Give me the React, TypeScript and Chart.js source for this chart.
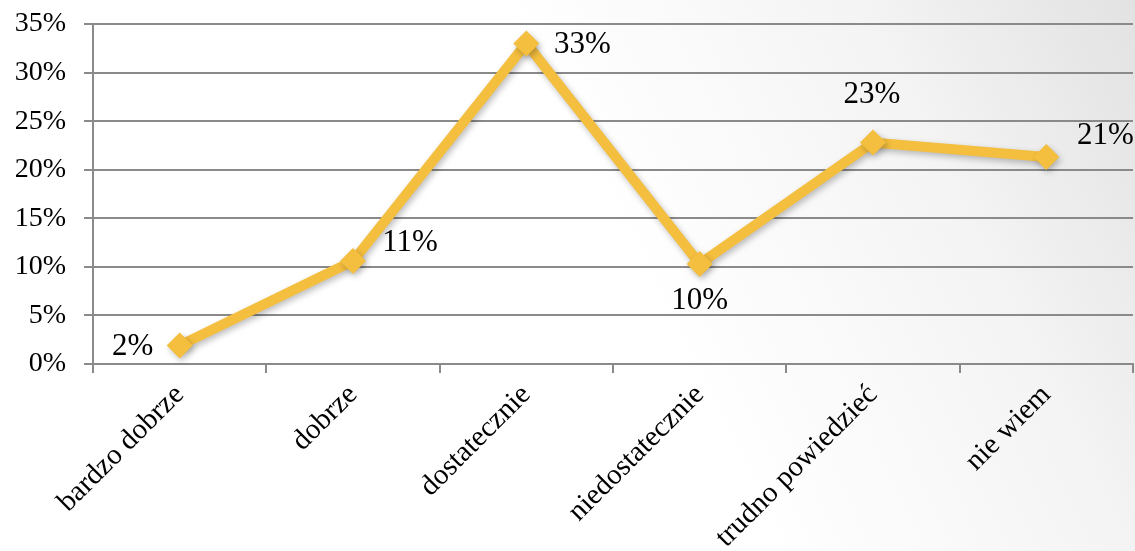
import React, { useEffect, useRef } from "react";
import { Chart, registerables } from "chart.js";

Chart.register(...registerables);

const categories = ["bardzo dobrze", "dobrze", "dostatecznie", "niedostatecznie", "trudno powiedzieć", "nie wiem"];
const values = [1.9, 10.6, 33.0, 10.3, 22.8, 21.3];
const yTicks = [0, 5, 10, 15, 20, 25, 30, 35];
// label placement offsets (px) relative to each point
const labelDx = [-47, 57, 56, 0, -1, 59];
const labelDy = [1, -18, 1, 37, -48, -21];

const FONT = "'Liberation Serif', 'Times New Roman', serif";
const LINE = "#F4BE3E";

const bgPlugin = {
  id: "bgGrad",
  beforeDraw(chart: any) {
    const { ctx, width, height } = chart;
    ctx.save();
    const g = ctx.createLinearGradient(0, height, width, 0);
    g.addColorStop(0, "#ffffff");
    g.addColorStop(0.55, "#ffffff");
    g.addColorStop(0.8, "#f4f4f4");
    g.addColorStop(1, "#e2e2e2");
    ctx.fillStyle = g;
    ctx.fillRect(0, 0, width, height);
    ctx.restore();
  },
};

const shadowPlugin = {
  id: "shadow",
  beforeDatasetDraw(chart: any) {
    const ctx = chart.ctx;
    ctx.save();
    ctx.shadowColor = "rgba(0,0,0,0.25)";
    ctx.shadowBlur = 6;
    ctx.shadowOffsetX = 2;
    ctx.shadowOffsetY = 3;
  },
  afterDatasetDraw(chart: any) {
    chart.ctx.restore();
  },
};

const labelPlugin = {
  id: "valueLabels",
  afterDatasetsDraw(chart: any) {
    const { ctx } = chart;
    const meta = chart.getDatasetMeta(0);
    ctx.save();
    ctx.font = `31px ${FONT}`;
    ctx.fillStyle = "#000";
    ctx.textAlign = "center";
    ctx.textBaseline = "middle";
    meta.data.forEach((pt: any, i: number) => {
      const txt = Math.round(values[i]) + "%";
      ctx.fillText(txt, pt.x + labelDx[i], pt.y + labelDy[i]);
    });
    ctx.restore();
  },
};

export default function App() {
  const ref = useRef<HTMLCanvasElement>(null);
  useEffect(() => {
    document.body.style.margin = "0";
    const chart = new Chart(ref.current!, {
      type: "line",
      data: {
        labels: categories,
        datasets: [
          {
            data: values,
            borderColor: LINE,
            backgroundColor: LINE,
            borderWidth: 10,
            pointStyle: "rectRot",
            pointRadius: 13,
            pointBackgroundColor: LINE,
            pointBorderWidth: 0,
            tension: 0,
            clip: false,
          },
        ],
      },
      options: {
        animation: false,
        responsive: false,
        devicePixelRatio: 1,
        layout: { autoPadding: false, padding: { top: 24, right: 2, left: 0, bottom: 0 } },
        plugins: { legend: { display: false }, tooltip: { enabled: false } },
        scales: {
          x: {
            type: "category",
            offset: true,
            grid: {
              offset: true,
              drawOnChartArea: false,
              drawTicks: true,
              tickLength: 9,
              color: "#8a8a8a",
              lineWidth: 2,
            },
            border: { display: true, color: "#8a8a8a", width: 2 },
            ticks: {
              autoSkip: false,
              maxRotation: 45,
              minRotation: 45,
              padding: 5,
              color: "#000",
              font: { family: FONT, size: 29 },
            },
            afterFit(scale: any) {
              scale.height = 187;
              scale.paddingLeft = 0;
              scale.paddingRight = 0;
            },
          },
          y: {
            min: 0,
            max: 35,
            afterBuildTicks(scale: any) {
              scale.ticks = yTicks.map((v) => ({ value: v }));
            },
            grid: {
              color: "#8a8a8a",
              lineWidth: 2,
              tickLength: 9,
            },
            border: { display: true, color: "#8a8a8a", width: 2 },
            ticks: {
              padding: 18,
              color: "#000",
              font: { family: FONT, size: 28 },
              callback: (v: any) => v + "%",
            },
            afterFit(scale: any) {
              scale.width = 93;
              scale.paddingTop = 0;
              scale.paddingBottom = 0;
            },
          },
        },
      },
      plugins: [bgPlugin, shadowPlugin, labelPlugin],
    });
    return () => chart.destroy();
  }, []);
  return (
    <div style={{ width: 1135, height: 551 }}>
      <canvas ref={ref} width={1135} height={551} style={{ display: "block" }} />
    </div>
  );
}
